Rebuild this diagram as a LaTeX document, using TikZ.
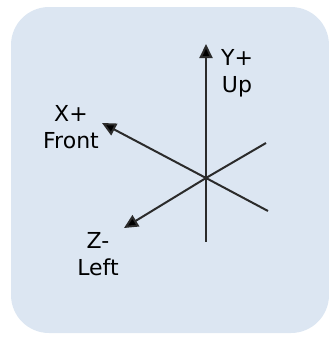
\documentclass[tikz,border=0pt]{standalone}
\usepackage{fontspec}
\setmainfont{DejaVu Sans}
\usepackage{xcolor}
\usetikzlibrary{arrows.meta}
\definecolor{panelblue}{HTML}{DCE6F2}
\definecolor{axisgray}{HTML}{2B2B2B}

\begin{document}
\begin{tikzpicture}[x=1pt, y=-1pt,
    axis/.style={draw=axisgray, line width=2pt},
    tipped/.style={axis, -{Triangle[length=14pt, width=13pt, fill=black]}},
    axislabel/.style={align=center, inner sep=0pt, text=black,
      font=\fontsize{22}{27}\selectfont}]
    \useasboundingbox (0,0) rectangle (329,338);
    \fill[panelblue, rounded corners=38pt] (11,7) rectangle (329,333);
    % axes
    \coordinate (o) at (206,178);
    \coordinate (ytip) at (206,44);
    \coordinate (ybot) at (206,242);
    \coordinate (xtip) at (102,123);
    \coordinate (xend) at (268,211);
    \coordinate (ztip) at (124,228);
    \coordinate (zend) at (266,143);
    \draw[axis] (o) -- (ybot);
    \draw[axis] (o) -- (xend);
    \draw[axis] (o) -- (zend);
    \draw[tipped] (o) -- (ytip);
    \draw[tipped] (o) -- (xtip);
    \draw[tipped] (o) -- (ztip);
    % labels
    \node[axislabel] (ylabel) at (237,73) {Y+\\Up};
    \node[axislabel] (xlabel) at (71,127) {X+\\Front};
    \node[axislabel] (zlabel) at (98,254) {Z-\\Left};
\end{tikzpicture}
\end{document}
